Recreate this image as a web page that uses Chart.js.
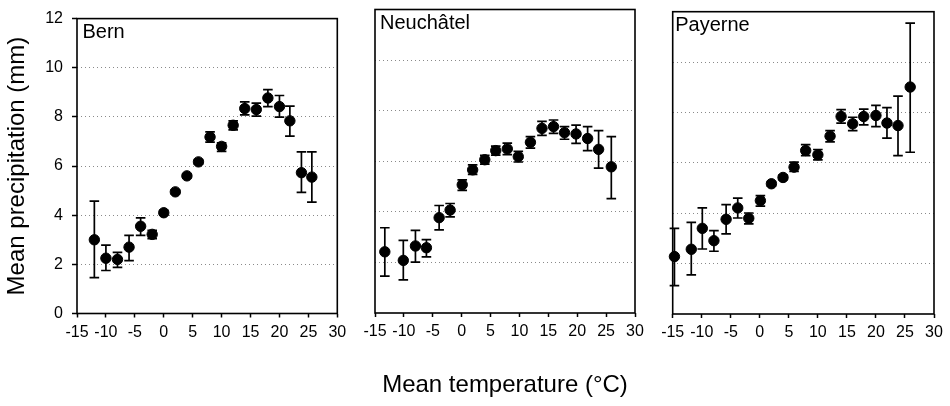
<!DOCTYPE html>
<html>
<head>
<meta charset="UTF-8">
<title>Mean precipitation vs mean temperature</title>
<style>
  body { margin: 0; background: #fff; }
  #wrap { position: relative; width: 950px; height: 406px; }
  #wrap canvas { position: absolute; left: 0; top: 0; }
</style>
</head>
<body>
<script src="https://cdn.jsdelivr.net/npm/chart.js@4.4.1/dist/chart.umd.min.js"></script>
<div id="wrap">
  <canvas id="bern" width="950" height="406"></canvas>
  <canvas id="neuchatel" width="950" height="406"></canvas>
  <canvas id="payerne" width="950" height="406"></canvas>
</div>
<script>
// values: temperature class, mean and error bar ends
const stationNames = ["Bern", "Neuchâtel", "Payerne"];

const bernTemp = [-12, -10, -8, -6, -4, -2, 0, 2, 4, 6, 8, 10, 12, 14, 16, 18, 20, 21.8, 23.8, 25.6];
const bernMean = [3.0, 2.25, 2.2, 2.7, 3.55, 3.22, 4.1, 4.95, 5.6, 6.17, 7.18, 6.8, 7.66, 8.34, 8.3, 8.77, 8.42, 7.84, 5.73, 5.55];
const bernLow  = [1.46, 1.75, 1.88, 2.15, 3.18, 3.05, 4.0, 4.87, 5.53, 6.08, 6.97, 6.6, 7.47, 8.08, 8.03, 8.42, 7.99, 7.22, 4.93, 4.53];
const bernHigh = [4.57, 2.78, 2.49, 3.18, 3.89, 3.38, 4.2, 5.03, 5.67, 6.26, 7.39, 6.94, 7.84, 8.61, 8.56, 9.11, 8.87, 8.44, 6.58, 6.58];

const neuTemp = [-13.3, -10.1, -8.0, -6.1, -3.9, -2.0, 0.1, 1.9, 4.0, 5.9, 7.9, 9.8, 11.9, 13.9, 15.9, 17.8, 19.8, 21.8, 23.7, 25.9];
const neuMean = [2.42, 2.08, 2.65, 2.58, 3.77, 4.07, 5.07, 5.66, 6.06, 6.42, 6.49, 6.18, 6.75, 7.30, 7.37, 7.13, 7.08, 6.90, 6.47, 5.78];
const neuLow  = [1.46, 1.31, 2.01, 2.22, 3.29, 3.80, 4.85, 5.48, 5.89, 6.24, 6.26, 5.97, 6.52, 7.02, 7.10, 6.87, 6.71, 6.42, 5.73, 4.52];
const neuHigh = [3.37, 2.87, 3.27, 2.90, 4.25, 4.33, 5.26, 5.86, 6.23, 6.60, 6.72, 6.39, 6.97, 7.58, 7.63, 7.37, 7.43, 7.37, 7.21, 6.97];

const payTemp = [-14.7, -11.8, -9.9, -7.9, -5.8, -3.8, -1.9, 0.1, 2, 4, 5.9, 7.9, 10, 12.1, 14, 16, 17.9, 20, 21.9, 23.8, 25.9];
const payMean = [2.28, 2.57, 3.40, 2.91, 3.76, 4.21, 3.80, 4.50, 5.17, 5.42, 5.83, 6.49, 6.32, 7.06, 7.84, 7.55, 7.84, 7.88, 7.58, 7.48, 9.01];
const payLow  = [1.13, 1.55, 2.58, 2.49, 3.18, 3.81, 3.58, 4.28, 5.08, 5.33, 5.66, 6.29, 6.12, 6.83, 7.58, 7.28, 7.51, 7.44, 6.98, 6.29, 6.42];
const payHigh = [3.40, 3.64, 4.21, 3.31, 4.34, 4.60, 4.01, 4.70, 5.26, 5.51, 6.03, 6.72, 6.53, 7.28, 8.11, 7.81, 8.13, 8.28, 8.19, 8.65, 11.55];

const FONT = "'Liberation Sans', Arial, Helvetica, sans-serif";

// vertical error bars with caps, under the points
const errorBars = {
  id: 'errorBars',
  beforeDatasetsDraw(chart) {
    const {ctx, scales: {x, y}} = chart;
    ctx.save();
    ctx.strokeStyle = '#000';
    ctx.lineWidth = 1.7;
    chart.data.datasets[0].data.forEach(p => {
      const px = x.getPixelForValue(p.x);
      const top = y.getPixelForValue(p.yMax);
      const bot = y.getPixelForValue(p.yMin);
      ctx.beginPath();
      ctx.moveTo(px, top); ctx.lineTo(px, bot);
      ctx.moveTo(px - 4.8, top); ctx.lineTo(px + 4.8, top);
      ctx.moveTo(px - 4.8, bot); ctx.lineTo(px + 4.8, bot);
      ctx.stroke();
    });
    ctx.restore();
  }
};

// black box round the plot area + station name inside
const frame = {
  id: 'frame',
  afterDraw(chart, args, opts) {
    const {ctx, chartArea: a} = chart;
    ctx.save();
    ctx.strokeStyle = '#000';
    ctx.lineWidth = 1.6;
    ctx.strokeRect(a.left, a.top, a.right - a.left, a.bottom - a.top);
    ctx.fillStyle = '#000';
    ctx.font = '20px ' + FONT;
    ctx.textBaseline = 'alphabetic';
    ctx.fillText(opts.name, a.left + opts.dx, a.top + 19);
    ctx.restore();
  }
};

function makeChart(id, name, temps, mean, low, high, box) {
  const yWidth = box.showY ? 77 : 0;
  return new Chart(document.getElementById(id), {
    type: 'scatter',
    data: {
      datasets: [{
        data: temps.map((t, i) => ({x: t, y: mean[i], yMin: low[i], yMax: high[i]})),
        backgroundColor: '#000',
        borderColor: '#000',
        pointRadius: 5.2,
        pointHoverRadius: 5.2,
        clip: false
      }]
    },
    options: {
      responsive: false,
      animation: false,
      events: [],
      layout: {padding: {left: box.left - yWidth, right: 950 - box.right, top: box.top, bottom: 0}},
      plugins: {
        legend: {display: false},
        tooltip: {enabled: false},
        frame: {name: name, dx: box.dx}
      },
      scales: {
        x: {
          type: 'linear',
          min: -15, max: 30,
          afterFit: s => { s.height = 406 - box.bottom; },
          ticks: {stepSize: 5, autoSkip: false, maxRotation: 0, color: '#000', padding: 5,
                  font: {family: FONT, size: 16}},
          grid: {drawOnChartArea: false, drawTicks: true, tickLength: 4, tickColor: '#000', tickWidth: 1.5},
          border: {display: false},
          title: {display: box.showTitle, text: 'Mean temperature (°C)', color: '#000',
                  font: {family: FONT, size: 24}, padding: {bottom: 6}}
        },
        y: {
          min: 0, max: 12,
          afterFit: s => { s.width = yWidth; },
          ticks: {display: box.showY, stepSize: 2, color: '#000', padding: 9,
                  font: {family: FONT, size: 16}},
          grid: {
            drawTicks: box.showY, tickLength: 5, tickColor: '#000', tickWidth: 1.5, tickBorderDash: [],
            lineWidth: 1,
            color: c => (c.tick && (c.tick.value === 0 || c.tick.value === 12)) ? 'rgba(0,0,0,0)' : '#8a8a8a'
          },
          border: {display: false, dash: [1, 3]},
          title: {display: box.showY, text: 'Mean precipitation (mm)', color: '#000',
                  font: {family: FONT, size: 24}, padding: {top: 3}}
        }
      }
    },
    plugins: [errorBars, frame]
  });
}

makeChart('bern', stationNames[0], bernTemp, bernMean, bernLow, bernHigh,
  {left: 77, right: 337.3, top: 12, bottom: 313.5, showY: true, showTitle: false, dx: 5.5});
makeChart('neuchatel', stationNames[1], neuTemp, neuMean, neuLow, neuHigh,
  {left: 375, right: 635, top: 9.5, bottom: 313, showY: false, showTitle: true, dx: 5});
makeChart('payerne', stationNames[2], payTemp, payMean, payLow, payHigh,
  {left: 672.7, right: 934, top: 11.7, bottom: 314, showY: false, showTitle: false, dx: 2.5});
</script>
</body>
</html>
